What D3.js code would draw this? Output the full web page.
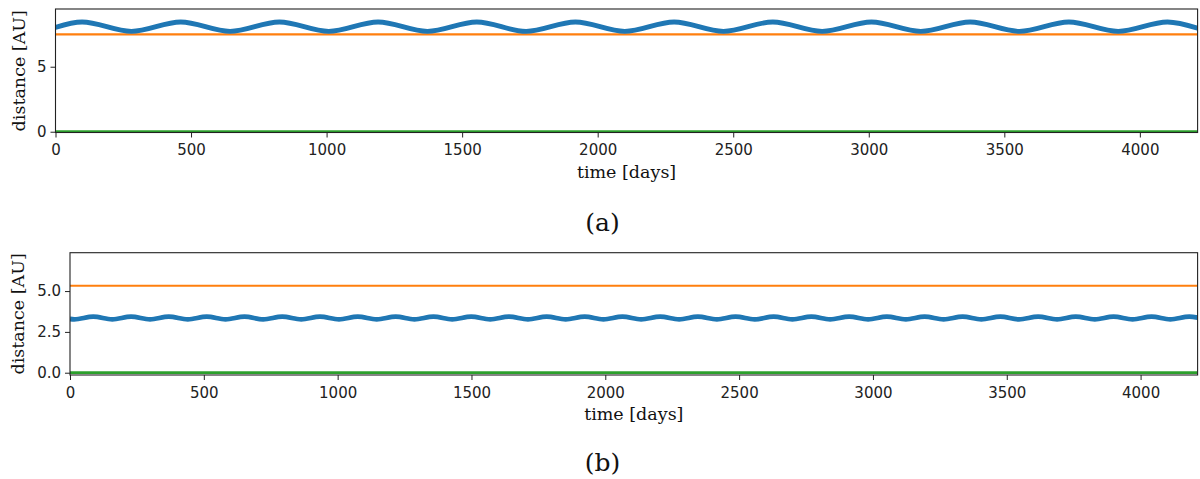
<!DOCTYPE html>
<html>
<head>
<meta charset="utf-8">
<script src="https://cdn.jsdelivr.net/npm/d3@7"></script>
<style>
  body { margin: 0; background: #fff; }
  .tick text { font-family: "DejaVu Sans", sans-serif; font-size: 15px; fill: #222; }
  .axis path { display: none; }
  .axis line { stroke: #222; }
  .lbl { font-family: "DejaVu Serif", serif; font-size: 17.5px; fill: #111; }
  .cap { font-family: "DejaVu Serif", serif; font-size: 25px; fill: #111; }
</style>
</head>
<body>
<div id="chart"></div>
<script>
// ---- data ----
// panel (a)
var timeA   = [0, 98, 280, 462, 644, 826, 1008, 1190, 1372, 1554, 1736, 1918, 2100, 2282, 2464, 2646, 2828, 3010, 3192, 3374, 3556, 3738, 3920, 4102, 4213];
var blueA   = [8.03, 8.44, 7.72, 8.44, 7.72, 8.44, 7.72, 8.44, 7.72, 8.44, 7.72, 8.44, 7.72, 8.44, 7.72, 8.44, 7.72, 8.44, 7.72, 8.44, 7.72, 8.44, 7.72, 8.44, 7.96];
var flatTime = [0, 4213];
var orangeA = [7.49, 7.49];
var greenA  = [0, 0];

// panel (b)
var timeB = [0, 16, 87, 158, 228, 299, 369, 440, 511, 581, 652, 722, 793, 864, 934, 1005, 1075, 1146, 1217, 1287, 1358, 1428, 1499, 1570, 1640, 1711, 1781, 1852, 1923, 1993, 2064, 2134, 2205, 2276, 2346, 2417, 2487, 2558, 2629, 2699, 2770, 2840, 2911, 2982, 3052, 3123, 3193, 3264, 3335, 3405, 3476, 3546, 3617, 3688, 3758, 3829, 3899, 3970, 4041, 4111, 4182, 4213];
var blueB = [3.29, 3.27,
  3.43, 3.27, 3.43, 3.27, 3.43, 3.27, 3.43, 3.27, 3.43, 3.27,
  3.43, 3.27, 3.43, 3.27, 3.43, 3.27, 3.43, 3.27, 3.43, 3.27,
  3.43, 3.27, 3.43, 3.27, 3.43, 3.27, 3.43, 3.27, 3.43, 3.27,
  3.43, 3.27, 3.43, 3.27, 3.43, 3.27, 3.43, 3.27, 3.43, 3.27,
  3.43, 3.27, 3.43, 3.27, 3.43, 3.27, 3.43, 3.27, 3.43, 3.27,
  3.43, 3.27, 3.43, 3.27, 3.43, 3.27, 3.43, 3.27, 3.43,
  3.37];
var orangeB = [5.33, 5.33];
var greenB  = [0, 0];

var xTicks  = [0, 500, 1000, 1500, 2000, 2500, 3000, 3500, 4000];
var yTicksA = [0, 5];
var yTicksB = [0, 2.5, 5];

var width = 1200, height = 479;
var svg = d3.select('#chart').append('svg')
    .attr('width', width)
    .attr('height', height);

function zip(t, v){
    return t.map(function(d, i){ return [d, v[i]]; });
}

var drawPanel = function(opt){
    var x = d3.scaleLinear().domain([0, 4213]).range([opt.left, 1197.6]);
    var y = d3.scaleLinear().domain(opt.ydom).range([opt.bottom, opt.top]);

    var clipId = 'clip-' + opt.name;
    svg.append('clipPath').attr('id', clipId)
        .append('rect')
        .attr('x', opt.left).attr('y', opt.top)
        .attr('width', 1197.6 - opt.left).attr('height', opt.bottom - opt.top);

    var g = svg.append('g').attr('clip-path', 'url(#' + clipId + ')');
    var line = d3.line()
        .x(function(d){ return x(d[0]); })
        .y(function(d){ return y(d[1]); });

    // green, orange, blue (blue on top)
    g.append('path').datum(zip(flatTime, opt.green))
        .attr('d', line.curve(d3.curveLinear))
        .attr('fill', 'none').attr('stroke', '#2ca02c').attr('stroke-width', 2.8);
    g.append('path').datum(zip(flatTime, opt.orange))
        .attr('d', line.curve(d3.curveLinear))
        .attr('fill', 'none').attr('stroke', '#ff7f0e').attr('stroke-width', 2.1);
    g.append('path').datum(zip(opt.time, opt.blue))
        .attr('d', line.curve(d3.curveMonotoneX))
        .attr('fill', 'none').attr('stroke', '#1f77b4').attr('stroke-width', 4.8)
        .attr('stroke-linejoin', 'round');

    // axes
    svg.append('g').attr('class', 'axis')
        .attr('transform', 'translate(0,' + opt.bottom + ')')
        .call(d3.axisBottom(x).tickValues(xTicks).tickSize(5).tickPadding(7).tickFormat(d3.format('d')));

    svg.append('g').attr('class', 'axis')
        .attr('transform', 'translate(' + opt.left + ',0)')
        .call(d3.axisLeft(y).tickValues(opt.yticks).tickSize(5).tickPadding(4).tickFormat(opt.yfmt));

    // frame
    svg.append('rect')
        .attr('x', opt.left).attr('y', opt.top)
        .attr('width', 1197.6 - opt.left).attr('height', opt.bottom - opt.top)
        .attr('fill', 'none').attr('stroke', '#222').attr('stroke-width', 1.1);

    // labels
    svg.append('text').attr('class', 'lbl')
        .attr('x', (opt.left + 1197.6) / 2).attr('y', opt.bottom + 45)
        .attr('text-anchor', 'middle')
        .text('time [days]');

    svg.append('text').attr('class', 'lbl')
        .attr('transform', 'translate(' + opt.ylabX + ',' + ((opt.top + opt.bottom) / 2) + ') rotate(-90)')
        .attr('text-anchor', 'middle')
        .text('distance [AU]');

    svg.append('text').attr('class', 'cap')
        .attr('x', 602.5).attr('y', opt.capY)
        .attr('text-anchor', 'middle')
        .text(opt.caption);
};

drawPanel({
    name: 'a', left: 55.5, top: 9, bottom: 132.5,
    ydom: [-0.06, 9.44], yticks: yTicksA, yfmt: d3.format('d'),
    time: timeA, blue: blueA, orange: orangeA, green: greenA,
    ylabX: 25, capY: 231, caption: '(a)'
});

drawPanel({
    name: 'b', left: 70, top: 252.7, bottom: 375,
    ydom: [-0.14, 7.35], yticks: yTicksB, yfmt: d3.format('.1f'),
    time: timeB, blue: blueB, orange: orangeB, green: greenB,
    ylabX: 24, capY: 471, caption: '(b)'
});
</script>
</body>
</html>
